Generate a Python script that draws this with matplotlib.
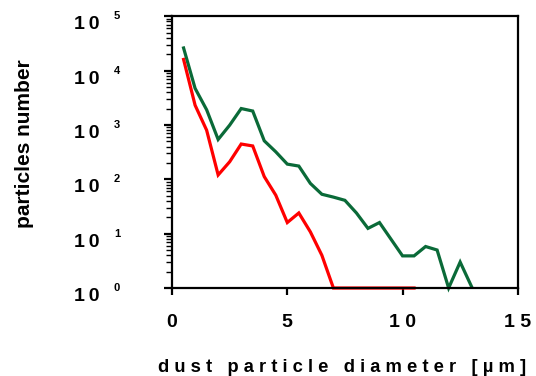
import matplotlib
matplotlib.use("Agg")
import matplotlib.pyplot as plt
import matplotlib.transforms as mtransforms
from matplotlib.ticker import LogLocator, NullFormatter

plt.rcParams['font.family'] = ['Liberation Sans', 'DejaVu Sans']
plt.rcParams['font.weight'] = 'bold'

# particle diameter [um]
green_diam = [0.5, 1.0, 1.5, 2.0, 2.5, 3.0, 3.5, 4.0, 4.5, 5.0, 5.5, 6.0, 6.5,
              7.0, 7.5, 8.0, 8.5, 9.0, 9.5, 10.0, 10.5, 11.0, 11.5, 12.0, 12.5, 13.0]
green_count = [26000, 4700, 1900, 540, 990, 2000, 1800, 510, 320, 190, 175, 84, 53,
               47, 41, 24, 12.5, 16, 7.9, 3.9, 3.9, 5.8, 5.0, 1, 3.0, 1.05]

red_diam = [0.5, 1.0, 1.5, 2.0, 2.5, 3.0, 3.5, 4.0, 4.5, 5.0, 5.5, 6.0, 6.5,
            7.0, 7.5, 8.0, 8.5, 9.0, 9.5, 10.0, 10.5]
red_count = [16000, 2300, 800, 120, 210, 445, 410, 112, 51, 16, 24, 10.8, 4.0,
             1, 1, 1, 1, 1, 1, 1, 1]

x_ticks = [0, 5, 10, 15]
decades = [0, 1, 2, 3, 4, 5]

fig = plt.figure(figsize=(5.36, 3.76), dpi=100)
ax = fig.add_axes([0.321, 0.234, 0.645, 0.723])

ax.plot(green_diam, green_count, color='#0a6a38', lw=2.3, clip_on=False,
        solid_joinstyle='miter')
ax.plot(red_diam, red_count, color='#ff0000', lw=2.3, clip_on=False,
        solid_joinstyle='miter')

ax.set_yscale('log')
ax.set_ylim(1, 1e5)
ax.set_xlim(0, 15)
ax.set_xticks(x_ticks)
# spaced digits like the original
ax.set_xticklabels([' '.join(str(t)) for t in x_ticks], fontsize=14, fontweight='bold')

ax.yaxis.set_major_locator(LogLocator(base=10, numticks=10))
ax.yaxis.set_minor_locator(LogLocator(base=10, subs=range(2, 10), numticks=10))
ax.yaxis.set_major_formatter(NullFormatter())
ax.yaxis.set_minor_formatter(NullFormatter())

for s in ax.spines.values():
    s.set_linewidth(1.6)
ax.tick_params(axis='x', which='major', direction='out', length=5, width=1.6, pad=14)
ax.tick_params(axis='y', which='major', direction='out', length=6, width=1.6)
ax.tick_params(axis='y', which='minor', direction='out', length=4, width=1.0)

# "10" with a spaced-out exponent for each decade
trans = mtransforms.blended_transform_factory(ax.transAxes, ax.transData)
for d in decades:
    ax.text(-0.209, 10 ** d, '1\u20090', transform=trans, fontsize=14, fontweight='bold',
            ha='right', va='top', clip_on=False)
    ax.text(-0.159, 10 ** d, str(d), transform=trans, fontsize=8, fontweight='bold',
            ha='center', va='center', clip_on=False)

ax.set_ylabel('particles number', fontsize=15, fontweight='bold')
ax.yaxis.set_label_coords(-0.40, 0.53)
xlabel = '   '.join(' '.join(w) for w in 'dust particle diameter [\u00b5m]'.split(' '))
ax.set_xlabel(xlabel, fontsize=13.2, fontweight='bold')
ax.xaxis.set_label_coords(0.491, -0.26)

fig.savefig('out.png', dpi=100)
